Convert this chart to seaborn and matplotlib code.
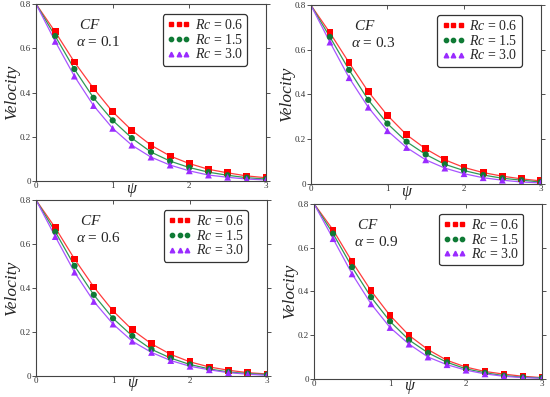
import numpy as np
import pandas as pd
import matplotlib
matplotlib.use("Agg")
import matplotlib.pyplot as plt
from matplotlib.lines import Line2D
import seaborn as sns

# psi grid where the markers sit
psi = [0, 0.25, 0.5, 0.75, 1.0, 1.25, 1.5, 1.75, 2.0, 2.25, 2.5, 2.75, 3.0]
rc_values = ["0.6", "1.5", "3.0"]
alphas = ["0.1", "0.3", "0.6", "0.9"]

# velocity values, one list per (alpha, Rc)
vel_a01_rc06 = [0.8, 0.674, 0.538, 0.419, 0.313, 0.229, 0.162, 0.113, 0.079, 0.053, 0.037, 0.023, 0.015]
vel_a01_rc15 = [0.8, 0.655, 0.506, 0.376, 0.274, 0.194, 0.131, 0.090, 0.061, 0.040, 0.026, 0.015, 0.009]
vel_a01_rc30 = [0.8, 0.631, 0.474, 0.341, 0.238, 0.162, 0.108, 0.072, 0.046, 0.027, 0.017, 0.009, 0.005]

vel_a03_rc06 = [0.8, 0.676, 0.542, 0.413, 0.307, 0.220, 0.157, 0.108, 0.074, 0.051, 0.035, 0.023, 0.014]
vel_a03_rc15 = [0.8, 0.657, 0.510, 0.376, 0.270, 0.189, 0.132, 0.088, 0.060, 0.040, 0.026, 0.017, 0.009]
vel_a03_rc30 = [0.8, 0.634, 0.475, 0.343, 0.238, 0.163, 0.108, 0.071, 0.046, 0.028, 0.017, 0.009, 0.005]

vel_a06_rc06 = [0.8, 0.674, 0.532, 0.405, 0.296, 0.210, 0.146, 0.098, 0.064, 0.041, 0.026, 0.015, 0.009]
vel_a06_rc15 = [0.8, 0.656, 0.501, 0.369, 0.262, 0.182, 0.121, 0.081, 0.052, 0.032, 0.018, 0.011, 0.006]
vel_a06_rc30 = [0.8, 0.634, 0.472, 0.339, 0.236, 0.158, 0.107, 0.070, 0.044, 0.028, 0.015, 0.008, 0.003]

vel_a09_rc06 = [0.8, 0.681, 0.536, 0.403, 0.290, 0.199, 0.134, 0.085, 0.054, 0.034, 0.022, 0.012, 0.006]
vel_a09_rc15 = [0.8, 0.664, 0.511, 0.374, 0.263, 0.178, 0.119, 0.076, 0.046, 0.028, 0.015, 0.008, 0.005]
vel_a09_rc30 = [0.8, 0.641, 0.480, 0.343, 0.235, 0.159, 0.100, 0.065, 0.040, 0.023, 0.012, 0.006, 0.003]

panels = [
    [vel_a01_rc06, vel_a01_rc15, vel_a01_rc30],
    [vel_a03_rc06, vel_a03_rc15, vel_a03_rc30],
    [vel_a06_rc06, vel_a06_rc15, vel_a06_rc30],
    [vel_a09_rc06, vel_a09_rc15, vel_a09_rc30],
]

marker_colors = ["#ff0000", "#0f7a35", "#9a2bff"]
line_colors = ["#ff3b3b", "#2e9a55", "#a855ff"]
markers = ["s", "o", "^"]

sns.set_style("white")
plt.rcParams["font.family"] = ["Liberation Serif", "DejaVu Serif"]
plt.rcParams["mathtext.fontset"] = "custom"
plt.rcParams["mathtext.rm"] = "Liberation Serif"
plt.rcParams["mathtext.it"] = "Liberation Serif:italic"

fig = plt.figure(figsize=(5.5, 3.97), dpi=100)
positions = [
    [0.0655, 0.544, 0.418, 0.446],
    [0.565, 0.5365, 0.418, 0.451],
    [0.0655, 0.053, 0.420, 0.443],
    [0.571, 0.0455, 0.4145, 0.441],
]

for k, pos in enumerate(positions):
    ax = fig.add_axes(pos)
    rows = []
    for rc, vals in zip(rc_values, panels[k]):
        for x, v in zip(psi, vals):
            rows.append({"psi": x, "vel": v, "Rc": rc})
    df = pd.DataFrame(rows)

    sns.lineplot(data=df, x="psi", y="vel", hue="Rc", palette=line_colors,
                 linewidth=0.9, legend=False, ax=ax)
    for rc, m, c in zip(rc_values, markers, marker_colors):
        sub = df[(df["Rc"] == rc) & (df["psi"] > 0)]
        sns.scatterplot(data=sub, x="psi", y="vel", marker=m, color=c,
                        s=24 if m != "o" else 20, edgecolor="none", legend=False,
                        ax=ax, zorder=3)

    ax.set_xlim(0, 3)
    ax.set_ylim(0, 0.8)
    ax.set_xticks([0, 1, 2, 3])
    ax.set_xticklabels(["0", "1", "2", "3"])
    ax.set_yticks([0, 0.2, 0.4, 0.6, 0.8])
    ax.set_yticklabels(["0", "0.2", "0.4", "0.6", "0.8"])
    ax.tick_params(axis="both", labelsize=6.5, length=3, width=0.6, pad=1,
                   colors="#333333", direction="in", top=True, right=True)
    ax.tick_params(axis="y", which="both", left=True, direction="out", pad=0.5)
    ax.tick_params(axis="y", right=True)
    for sp in ax.spines.values():
        sp.set_color("#444444")
        sp.set_linewidth(0.8)
    ax.set_xlabel("")
    ax.set_ylabel("Velocity", fontsize=12.5, style="italic", labelpad=0)
    ax.text(0.42, -0.048, r"$\psi$", transform=ax.transAxes, ha="center",
            va="center", fontsize=11.5)
    ax.text(0.235, 0.88, r"$CF$", transform=ax.transAxes, ha="center",
            va="center", fontsize=11)
    ax.text(0.175, 0.785, r"$\alpha$ = " + alphas[k], transform=ax.transAxes,
            ha="left", va="center", fontsize=11)

    handles = [Line2D([], [], linestyle="none", marker=m, color=c,
                      markersize=3.3 if m != "o" else 3.1)
               for m, c in zip(markers, marker_colors)]
    labels = [r"$Rc$ = " + rc for rc in rc_values]
    leg = ax.legend(handles, labels, loc="upper right",
                    bbox_to_anchor=(0.93, 0.96), numpoints=3, fontsize=10,
                    frameon=True, fancybox=True, handlelength=1.7,
                    handletextpad=0.3, labelspacing=0.05, borderpad=0.3,
                    borderaxespad=0.2, markerscale=1.0)
    leg.get_frame().set_edgecolor("#333333")
    leg.get_frame().set_linewidth(0.9)
    leg.get_frame().set_alpha(1)

fig.savefig("out.png", dpi=100)
